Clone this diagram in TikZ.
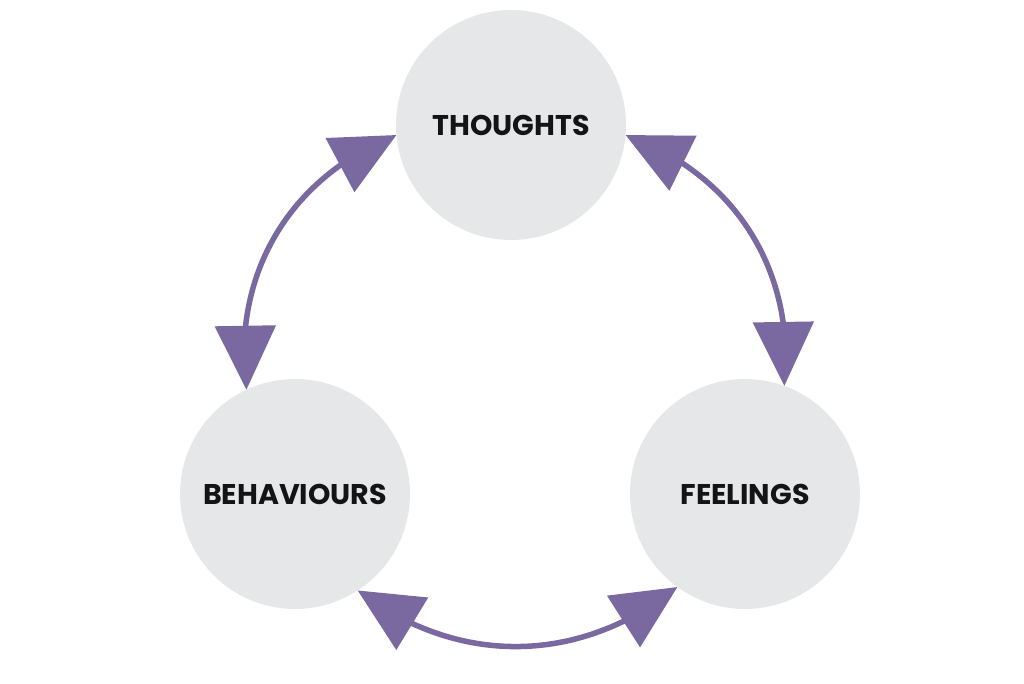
\documentclass[tikz,border=0pt]{standalone}
\usepackage{fontspec}
\setmainfont{Poppins}
\usetikzlibrary{arrows.meta,bending}
\definecolor{circfill}{RGB}{230,231,233}
\definecolor{arrpurple}{RGB}{122,104,160}
\tikzset{
  bubble/.style={circle,fill=circfill,minimum size=230pt,inner sep=0pt,outer sep=0pt,
    font=\fontsize{28.5}{32}\selectfont\bfseries,text=black!92},
  cyclearrow/.style={draw=arrpurple,line width=5.5pt,
    {Triangle[length=64pt,width=60pt]}-{Triangle[length=64pt,width=60pt]},bend left=38}
}
\begin{document}
\begin{tikzpicture}[x=1pt,y=1pt]
\useasboundingbox (0,0) rectangle (1024,683);
\node[bubble] (T) at (511,558) {\raisebox{-2pt}{THOUGHTS}};
\node[bubble] (B) at (295,189) {\raisebox{-2pt}{BEHAVIOURS}};
\node[bubble] (F) at (745,189) {\raisebox{-2pt}{FEELINGS}};
\draw[cyclearrow] (B.115) to (T.185);
\draw[cyclearrow] (T.355) to (F.70);
\draw[cyclearrow] (F.234) to (B.303);
\end{tikzpicture}
\end{document}
